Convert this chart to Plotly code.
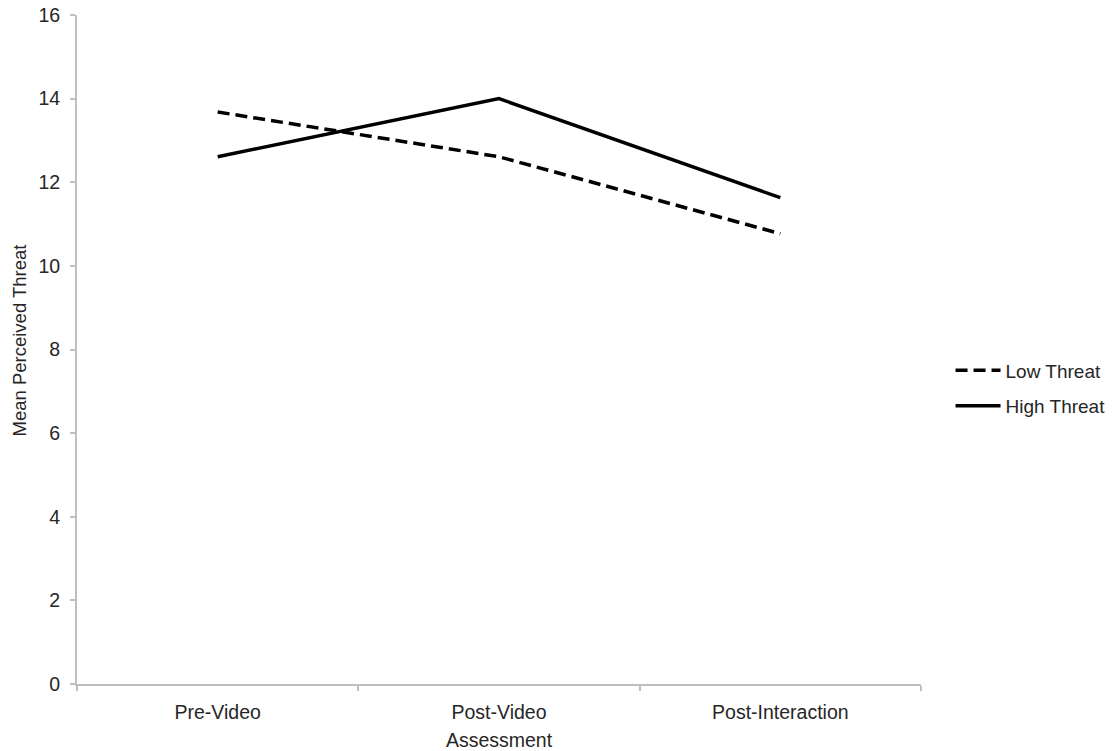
import plotly.graph_objects as go

categories = ["Pre-Video", "Post-Video", "Post-Interaction"]
low_threat = [13.68, 12.61, 10.77]
high_threat = [12.61, 14.0, 11.63]
y_ticks = [0, 2, 4, 6, 8, 10, 12, 14, 16]

fig = go.Figure()
fig.add_trace(go.Scatter(x=categories, y=low_threat, mode="lines", name="Low Threat",
                         legendgroup="low",
                         line=dict(color="black", width=3.5, dash="12px,6px")))
fig.add_trace(go.Scatter(x=categories, y=high_threat, mode="lines", name="High Threat",
                         legendgroup="high",
                         line=dict(color="black", width=3.5)))

font_family = "Liberation Sans, Arial, sans-serif"
fig.update_layout(
    width=1113, height=751,
    margin=dict(l=77, r=192, t=15, b=67, autoexpand=False),
    paper_bgcolor="white", plot_bgcolor="white",
    font=dict(family=font_family, color="#262626", size=19),
    showlegend=True,
    legend=dict(x=1.035, y=0.442, xanchor="left", yanchor="middle",
                font=dict(size=19, color="#262626"), traceorder="grouped",
                tracegroupgap=8, itemwidth=45,
                bgcolor="rgba(0,0,0,0)"),
    xaxis=dict(
        type="category", range=[-0.5, 2.5], tickson="boundaries",
        showline=True, linecolor="#bfbfbf", linewidth=2,
        ticks="outside", ticklen=5, tickcolor="#bfbfbf", tickwidth=2,
        showgrid=False, zeroline=False, automargin=False,
        tickfont=dict(size=19.5), ticklabelstandoff=10,
        title=dict(text="Assessment", font=dict(size=19.5), standoff=12),
    ),
    yaxis=dict(
        range=[0, 16], tickvals=y_ticks,
        showline=True, linecolor="#bfbfbf", linewidth=2,
        ticks="outside", ticklen=5, tickcolor="#bfbfbf", tickwidth=2,
        showgrid=False, zeroline=False, automargin=False,
        tickfont=dict(size=19.5), ticklabelstandoff=6,
    ),
    annotations=[dict(
        text="Mean Perceived Threat", xref="paper", yref="paper",
        x=-0.0687, y=0.5135, xanchor="center", yanchor="middle",
        textangle=-90, showarrow=False, font=dict(size=18.5, color="#262626"),
    )],
)

fig.write_html("out.html", config={"displayModeBar": False},
               post_script="document.body.style.margin='0';")
